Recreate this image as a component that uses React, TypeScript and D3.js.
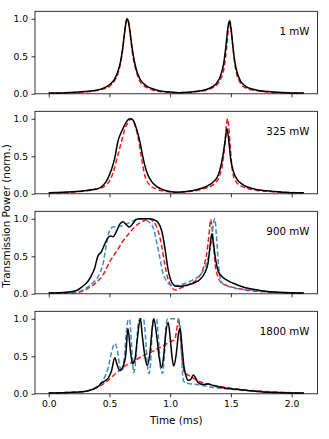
import * as d3 from "d3";
import { useEffect, useRef } from "react";

type Pt = [number, number];

// panel labels
const powers = ["1 mW", "325 mW", "900 mW", "1800 mW"];
const xTicks = [0, 0.5, 1.0, 1.5, 2.0];
const yTicks = [0, 0.5, 1.0];

// 1 mW
const p1Exp: Pt[] = [[0,0.01],[0.1,0.012],[0.2,0.02],[0.3,0.03],[0.4,0.05],[0.45,0.075],[0.5,0.12],[0.54,0.19],[0.57,0.3],[0.59,0.42],[0.61,0.62],[0.625,0.82],[0.64,0.98],[0.645,1.0],[0.655,0.97],[0.67,0.82],[0.685,0.63],[0.7,0.48],[0.72,0.33],[0.75,0.2],[0.8,0.11],[0.85,0.07],[0.9,0.045],[1.0,0.025],[1.07,0.015],[1.15,0.02],[1.25,0.04],[1.32,0.07],[1.37,0.12],[1.41,0.22],[1.44,0.4],[1.46,0.65],[1.475,0.88],[1.487,0.97],[1.5,0.88],[1.515,0.65],[1.53,0.45],[1.55,0.29],[1.58,0.17],[1.62,0.1],[1.7,0.055],[1.8,0.03],[1.9,0.02],[2.0,0.012],[2.1,0.01]];
const p1Red: Pt[] = [[0,0.008],[0.1,0.01],[0.2,0.015],[0.3,0.025],[0.4,0.045],[0.45,0.065],[0.5,0.1],[0.54,0.17],[0.57,0.27],[0.59,0.4],[0.61,0.6],[0.625,0.82],[0.64,0.98],[0.647,1.0],[0.655,0.97],[0.67,0.8],[0.685,0.6],[0.7,0.44],[0.72,0.3],[0.75,0.17],[0.8,0.09],[0.85,0.055],[0.9,0.035],[1.0,0.02],[1.07,0.015],[1.15,0.018],[1.25,0.035],[1.32,0.06],[1.37,0.1],[1.41,0.18],[1.445,0.36],[1.465,0.62],[1.48,0.87],[1.49,0.98],[1.502,0.87],[1.517,0.62],[1.532,0.4],[1.55,0.25],[1.58,0.14],[1.62,0.08],[1.7,0.045],[1.8,0.025],[1.9,0.015],[2.0,0.01],[2.1,0.008]];

// 325 mW
const p2Exp: Pt[] = [[0,0.013],[0.2,0.027],[0.31,0.045],[0.365,0.058],[0.42,0.08],[0.475,0.17],[0.516,0.32],[0.544,0.48],[0.57,0.7],[0.6,0.83],[0.626,0.92],[0.654,0.99],[0.673,1.0],[0.695,0.98],[0.72,0.88],[0.75,0.7],[0.777,0.48],[0.805,0.3],[0.846,0.165],[0.887,0.1],[0.942,0.054],[0.997,0.03],[1.05,0.022],[1.135,0.03],[1.217,0.054],[1.3,0.1],[1.354,0.156],[1.396,0.25],[1.42,0.39],[1.44,0.57],[1.456,0.75],[1.467,0.87],[1.48,0.75],[1.497,0.48],[1.52,0.3],[1.552,0.19],[1.6,0.12],[1.684,0.067],[1.794,0.04],[1.93,0.022],[2.1,0.013]];
const p2Red: Pt[] = [[0,0.01],[0.25,0.03],[0.39,0.06],[0.475,0.12],[0.53,0.28],[0.57,0.52],[0.6,0.7],[0.626,0.86],[0.654,0.95],[0.68,1.0],[0.709,0.92],[0.736,0.75],[0.764,0.48],[0.79,0.25],[0.83,0.12],[0.887,0.063],[0.97,0.03],[1.05,0.022],[1.16,0.03],[1.27,0.067],[1.354,0.12],[1.404,0.23],[1.43,0.39],[1.45,0.66],[1.464,0.92],[1.473,1.0],[1.483,0.88],[1.497,0.57],[1.513,0.3],[1.54,0.165],[1.59,0.1],[1.684,0.054],[1.85,0.027],[2.1,0.013]];

// 900 mW
const p3Exp: Pt[] = [[0,0.01],[0.146,0.02],[0.23,0.045],[0.28,0.1],[0.32,0.16],[0.35,0.24],[0.38,0.35],[0.4,0.48],[0.415,0.53],[0.43,0.55],[0.46,0.66],[0.49,0.75],[0.51,0.77],[0.53,0.76],[0.56,0.84],[0.585,0.93],[0.61,0.96],[0.64,0.92],[0.665,0.89],[0.695,0.94],[0.72,0.99],[0.75,1.0],[0.8,1.0],[0.83,1.0],[0.86,0.99],[0.9,0.95],[0.93,0.84],[0.948,0.7],[0.964,0.53],[0.98,0.35],[1.003,0.19],[1.025,0.125],[1.05,0.1],[1.09,0.1],[1.135,0.115],[1.19,0.14],[1.245,0.19],[1.285,0.28],[1.313,0.42],[1.33,0.66],[1.343,0.8],[1.357,0.66],[1.376,0.44],[1.396,0.3],[1.42,0.24],[1.46,0.19],[1.52,0.14],[1.6,0.09],[1.74,0.045],[1.88,0.02],[2.1,0.01]];
const p3Red: Pt[] = [[0,0.01],[0.23,0.015],[0.31,0.06],[0.39,0.15],[0.45,0.26],[0.5,0.42],[0.56,0.57],[0.61,0.7],[0.67,0.82],[0.72,0.91],[0.78,0.97],[0.82,1.0],[0.865,0.96],[0.9,0.84],[0.93,0.64],[0.956,0.39],[0.98,0.21],[1.01,0.1],[1.04,0.05],[1.09,0.08],[1.16,0.13],[1.23,0.21],[1.27,0.33],[1.3,0.53],[1.32,0.79],[1.333,0.99],[1.35,0.79],[1.37,0.39],[1.39,0.24],[1.42,0.15],[1.49,0.1],[1.57,0.067],[1.74,0.03],[2.1,0.01]];
const p3Blue: Pt[] = [[0,0.01],[0.23,0.025],[0.31,0.08],[0.365,0.15],[0.41,0.24],[0.45,0.42],[0.475,0.66],[0.5,0.84],[0.53,0.89],[0.585,0.9],[0.64,0.93],[0.695,0.97],[0.736,1.0],[0.78,0.99],[0.83,0.95],[0.865,0.86],[0.89,0.68],[0.915,0.48],[0.94,0.28],[0.97,0.17],[1.003,0.12],[1.05,0.11],[1.107,0.13],[1.18,0.18],[1.245,0.25],[1.285,0.35],[1.32,0.53],[1.343,0.75],[1.36,0.97],[1.368,1.0],[1.38,0.79],[1.398,0.39],[1.415,0.19],[1.44,0.125],[1.52,0.08],[1.66,0.05],[2.1,0.01]];

// 1800 mW
const p4Exp: Pt[] = [[0,0.01],[0.2,0.02],[0.31,0.035],[0.365,0.06],[0.41,0.1],[0.434,0.14],[0.46,0.17],[0.49,0.21],[0.516,0.3],[0.544,0.48],[0.563,0.39],[0.585,0.31],[0.613,0.37],[0.635,0.53],[0.652,0.87],[0.673,0.57],[0.69,0.4],[0.71,0.46],[0.728,0.71],[0.755,1.0],[0.77,0.78],[0.794,0.48],[0.81,0.38],[0.832,0.53],[0.85,0.84],[0.865,1.0],[0.887,0.8],[0.91,0.48],[0.93,0.35],[0.948,0.53],[0.96,0.75],[0.984,0.95],[1.0,0.75],[1.016,0.48],[1.03,0.37],[1.05,0.53],[1.07,0.82],[1.082,0.87],[1.096,0.66],[1.113,0.37],[1.13,0.24],[1.148,0.18],[1.168,0.19],[1.19,0.25],[1.21,0.21],[1.23,0.15],[1.27,0.125],[1.313,0.13],[1.354,0.11],[1.437,0.08],[1.52,0.063],[1.657,0.04],[1.79,0.022],[2.1,0.01]];
const p4Red: Pt[] = [[0,0.01],[0.28,0.027],[0.39,0.08],[0.475,0.16],[0.53,0.24],[0.61,0.35],[0.695,0.43],[0.78,0.51],[0.86,0.57],[0.94,0.64],[1.01,0.7],[1.04,0.73],[1.05,0.82],[1.066,0.98],[1.07,1.0],[1.08,0.84],[1.093,0.57],[1.107,0.35],[1.12,0.28],[1.148,0.25],[1.19,0.21],[1.245,0.16],[1.327,0.125],[1.437,0.09],[1.574,0.058],[1.74,0.036],[2.1,0.01]];
const p4Blue: Pt[] = [[0,0.01],[0.31,0.035],[0.39,0.09],[0.434,0.15],[0.46,0.22],[0.49,0.35],[0.516,0.55],[0.544,0.67],[0.563,0.6],[0.585,0.37],[0.604,0.3],[0.62,0.44],[0.64,0.84],[0.654,0.99],[0.665,0.99],[0.687,0.53],[0.7,0.28],[0.72,0.53],[0.736,0.93],[0.75,1.0],[0.78,1.0],[0.797,0.75],[0.81,0.44],[0.824,0.27],[0.84,0.44],[0.855,0.93],[0.865,1.0],[0.887,1.0],[0.907,0.66],[0.92,0.35],[0.937,0.27],[0.953,0.53],[0.967,0.93],[0.98,1.0],[1.065,1.0],[1.08,0.93],[1.093,0.53],[1.107,0.19],[1.12,0.15],[1.176,0.13],[1.217,0.125],[1.27,0.11],[1.38,0.08],[1.52,0.058],[1.68,0.036],[2.1,0.01]];

const panels = [
  { exp: p1Exp, red: p1Red, blue: null as Pt[] | null },
  { exp: p2Exp, red: p2Red, blue: null as Pt[] | null },
  { exp: p3Exp, red: p3Red, blue: p3Blue },
  { exp: p4Exp, red: p4Red, blue: p4Blue },
];

export default function App() {
  const ref = useRef<SVGSVGElement>(null);

  useEffect(() => {
    if (!ref.current) return;
    const svg = d3.select(ref.current);
    svg.selectAll("*").remove();

    const width = 329, height = 439;
    const left = 35, right = 317.5;
    const panelTop = 11.3, panelH = 82.5, step = 100;
    const font = "DejaVu Sans, sans-serif";

    svg.attr("width", width).attr("height", height);
    svg.append("rect").attr("width", width).attr("height", height).attr("fill", "#fff");

    const x = d3.scaleLinear().domain([-0.113, 2.213]).range([left, right]);

    panels.forEach((p, i) => {
      const top = panelTop + i * step;
      const y = d3.scaleLinear().domain([0, 1.1]).range([top + panelH, top]);
      const g = svg.append("g");

      const line = d3.line<Pt>()
        .x((d) => x(d[0]))
        .y((d) => y(d[1]))
        .curve(d3.curveMonotoneX);

      // model curves (dashed) under the measurement
      g.append("path")
        .datum(p.red)
        .attr("fill", "none")
        .attr("stroke", "#f01c1c")
        .attr("stroke-width", 1.5)
        .attr("stroke-dasharray", "5,2.5")
        .attr("d", line);

      if (p.blue) {
        g.append("path")
          .datum(p.blue)
          .attr("fill", "none")
          .attr("stroke", "#3d8cc6")
          .attr("stroke-width", 1.5)
          .attr("stroke-dasharray", "5,2.5")
          .attr("d", line);
      }

      // experiment
      g.append("path")
        .datum(p.exp)
        .attr("fill", "none")
        .attr("stroke", "#000")
        .attr("stroke-width", 1.5)
        .attr("d", line);

      // frame
      g.append("rect")
        .attr("x", left)
        .attr("y", top)
        .attr("width", right - left)
        .attr("height", panelH)
        .attr("fill", "none")
        .attr("stroke", "#000")
        .attr("stroke-width", 0.8);

      // y axis
      const ya = g.append("g")
        .attr("transform", `translate(${left},0)`)
        .call(d3.axisLeft(y).tickValues(yTicks).tickFormat(d3.format(".1f")).tickSize(3.5).tickPadding(3.5));
      ya.select(".domain").remove();
      ya.selectAll("line").attr("stroke-width", 0.8);
      ya.selectAll("text").attr("font-family", font).attr("font-size", "9.2px").attr("fill", "#000");

      // x axis
      const xa = g.append("g")
        .attr("transform", `translate(0,${top + panelH})`)
        .call(d3.axisBottom(x).tickValues(xTicks).tickFormat(i === 3 ? d3.format(".1f") : () => "").tickSize(3.5).tickPadding(3.5));
      xa.select(".domain").remove();
      xa.selectAll("line").attr("stroke-width", 0.8);
      xa.selectAll("text").attr("font-family", font).attr("font-size", "9.2px").attr("fill", "#000");

      // power label
      g.append("text")
        .attr("x", 309.5)
        .attr("y", top + 24)
        .attr("text-anchor", "end")
        .attr("font-family", font)
        .attr("font-size", "10.3px")
        .text(powers[i]);
    });

    svg.append("text")
      .attr("x", (left + right) / 2)
      .attr("y", 424)
      .attr("text-anchor", "middle")
      .attr("font-family", font)
      .attr("font-size", "10.4px")
      .text("Time (ms)");

    svg.append("text")
      .attr("transform", `translate(10,216) rotate(-90)`)
      .attr("text-anchor", "middle")
      .attr("font-family", font)
      .attr("font-size", "10.4px")
      .text("Transmission Power (norm.)");
  }, []);

  return <svg ref={ref} style={{ position: "absolute", left: 0, top: 0 }} />;
}
